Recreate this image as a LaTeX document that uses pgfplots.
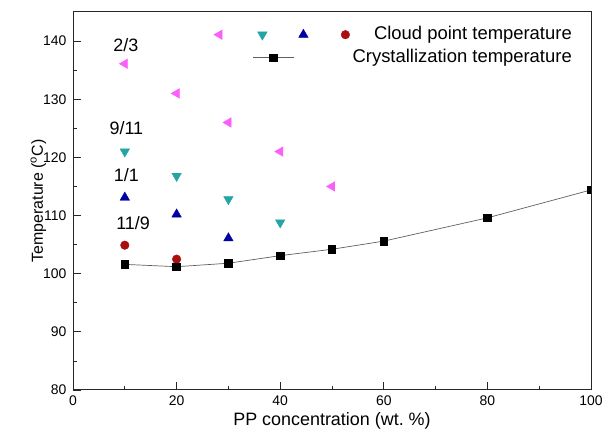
\documentclass[border=0pt]{standalone}
\usepackage{pgfplots}
\pgfplotsset{compat=1.18}
\usepackage{fontspec}
\setmainfont{Liberation Sans}
\definecolor{cpink}{RGB}{250,95,250}
\definecolor{ccyan}{RGB}{35,165,165}
\definecolor{cblue}{RGB}{0,0,165}
\definecolor{cred}{RGB}{170,15,15}
\definecolor{cline}{RGB}{95,95,95}
\begin{document}
\begin{tikzpicture}[x=1bp,y=1bp]
\begin{axis}[
  scale only axis,
  width=518bp, height=378bp,
  xmin=0, xmax=100, ymin=80, ymax=145,
  xtick={0,20,...,100}, ytick={80,90,...,140},
  minor x tick num=1, minor y tick num=1,
  tick align=inside,
  xtick pos=bottom, ytick pos=left,
  major tick length=7.5bp, minor tick length=4bp,
  clip marker paths=true,
  /pgf/number format/assume math mode=true,
  tick label style={font=\fontsize{14}{16}\selectfont},
  yticklabel style={xshift=-3bp},
  xticklabel style={yshift=-2bp},
  xlabel={PP concentration (wt.\ \%)},
  ylabel={Temperature (\textsuperscript{o}C)},
  every axis x label/.style={at={(axis description cs:0.5,-0.082)}, anchor=center, font=\fontsize{18}{20}\selectfont},
  every axis y label/.style={at={(axis description cs:-0.067,0.5)}, anchor=center, rotate=90, font=\fontsize{16}{18}\selectfont},
  axis line style={line width=1pt, draw=black!85},
  every tick/.style={black!85, line width=0.8pt},
  legend style={draw=none, fill=none, at={(1,1)}, anchor=north east, xshift=-17bp, yshift=-12bp,
     font=\fontsize{18.5}{21}\selectfont, row sep=2bp, inner sep=0bp,
     nodes={text height=13bp, text depth=4bp, inner sep=2bp}},
  legend cell align=right,
]
\addlegendimage{legend image code/.code={
  \path (-68bp,0) (68bp,0);
  \draw[cpink,fill=cpink] plot[only marks,mark=triangle*,mark size=5.5bp,mark options={rotate=90}] coordinates {(-63bp,0)};
  \draw[ccyan,fill=ccyan] plot[only marks,mark=triangle*,mark size=5.5bp,mark options={rotate=180}] coordinates {(-20bp,0)};
  \draw[cblue,fill=cblue] plot[only marks,mark=triangle*,mark size=5.5bp] coordinates {(21bp,0)};
  \draw[cred,fill=cred] plot[only marks,mark=*,mark size=4.3bp] coordinates {(63bp,0)};
}}
\addlegendentry{Cloud point temperature}
\addlegendimage{legend image code/.code={
  \path (-68bp,0) (68bp,0);
  \draw[cline,line width=0.7pt] (-29bp,0) -- (12bp,0);
  \draw[black,fill=black] plot[only marks,mark=square*,mark size=3.8bp] coordinates {(-9bp,0)};
}}
\addlegendentry{Crystallization temperature}
\addplot[only marks, mark=triangle*, mark size=5.5bp, color=cpink, mark options={rotate=90,fill=cpink}, forget plot]
 coordinates {(10,136.1) (20,131) (30,126) (40,121) (50,115)};
\addplot[only marks, mark=triangle*, mark size=5.5bp, color=ccyan, mark options={rotate=180,fill=ccyan}, forget plot]
 coordinates {(10,121) (20,116.8) (30,112.8) (40,108.8)};
\addplot[only marks, mark=triangle*, mark size=5.5bp, color=cblue, mark options={fill=cblue}, forget plot]
 coordinates {(10,113.1) (20,110.2) (30,106.1)};
\addplot[only marks, mark=*, mark size=4.3bp, color=cred, mark options={fill=cred}, forget plot]
 coordinates {(10,104.9) (20,102.5)};
\addplot[cline, line width=0.7pt, mark=square*, mark size=3.8bp, mark options={fill=black, draw=black}, forget plot]
 coordinates {(10,101.6) (20,101.2) (30,101.8) (40,103.1) (50,104.2) (60,105.6) (80,109.6) (100,114.4)};
\node[font=\fontsize{18}{20}\selectfont] at (axis cs:10.2,139.3) {2/3};
\node[font=\fontsize{18}{20}\selectfont] at (axis cs:10.3,125.0) {9/11};
\node[font=\fontsize{18}{20}\selectfont] at (axis cs:10.3,117.0) {1/1};
\node[font=\fontsize{18}{20}\selectfont] at (axis cs:11.6,108.7) {11/9};
\end{axis}
\pgfresetboundingbox
\path ([shift={(-73bp,-54bp)}]current axis.south west) rectangle ([shift={(14bp,12bp)}]current axis.north east);
\end{tikzpicture}
\end{document}
